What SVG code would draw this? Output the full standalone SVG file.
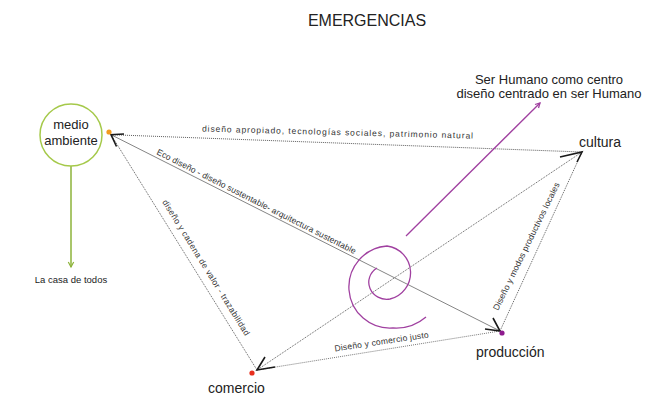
<svg xmlns="http://www.w3.org/2000/svg" width="646" height="400" viewBox="0 0 646 400">
<style>
text{font-family:"Liberation Sans",Arial,sans-serif;fill:#333}
.lbl{font-size:8.5px;fill:#333}
.node{font-size:14px;fill:#222}
.dot{fill:none;stroke:#333;stroke-width:0.8;stroke-dasharray:1 1}
.sol{fill:none;stroke:#666;stroke-width:0.8}
.chev{fill:none;stroke:#1a1a1a;stroke-width:1.6;stroke-linejoin:miter}
.pur{fill:none;stroke:#a040a0;stroke-width:1.3}
</style>
<rect width="646" height="400" fill="#fff"/>
<text x="367" y="26" text-anchor="middle" style="font-size:16px;fill:#222">EMERGENCIAS</text>

<g id="connectors">
<path class="dot" d="M111 134.7 L582 152"/>
<path class="sol" d="M111 134.7 L500 331"/>
<path class="dot" d="M111 134.7 L257 370"/>
<path class="dot" d="M257 370 L500 331" style="stroke:#555"/>
<path class="dot" d="M257 370 L582 152"/>
<path class="dot" d="M500 331 L582 152"/>
<path class="chev" d="M124 134 L111 134.7 L116.5 146.5"/>
<path class="chev" d="M560 157 L582 152 L577 162"/>
<path class="chev" d="M493 318 L500 331 L485 329"/>
<path class="chev" d="M265 357 L257 370 L275 367"/>
<path d="M71 166 L71 267" stroke="#8db33a" stroke-width="1.5" fill="none"/>
<path d="M68.3 262 L71 267 L73.7 262" stroke="#8db33a" stroke-width="1.2" fill="none"/>
<path class="pur" d="M406 236 L540 103"/>
<path class="pur" d="M535 104.5 L540 103 L538.5 108" stroke-width="1"/>
<text class="lbl" transform="translate(202 131.5) rotate(1.5)" textLength="271">diseño apropiado, tecnologías sociales, patrimonio natural</text>
<text class="lbl" transform="translate(156 154) rotate(26.8)" textLength="222">Eco diseño - diseño sustentable- arquitectura sustentable</text>
<text class="lbl" transform="translate(162 202) rotate(58.2)" textLength="158">diseño y cadena de valor - trazabilidad</text>
<text class="lbl" transform="translate(335 351.5) rotate(-8.5)" textLength="95">Diseño y comercio justo</text>
<text class="lbl" transform="translate(498 311) rotate(-64)" textLength="141">Diseño y modos productivos locales</text>
</g>

<g id="medio-ambiente">
<circle cx="71" cy="135" r="31" fill="none" stroke="#a5c94a" stroke-width="1.5"/>
<text x="71" y="129" text-anchor="middle" style="font-size:13px;fill:#222">medio</text>
<text x="71" y="145" text-anchor="middle" style="font-size:13px;fill:#222">ambiente</text>
<circle cx="109" cy="132" r="2.6" fill="#f39a1e"/>
</g>

<g id="la-casa">
<text x="71" y="283" text-anchor="middle" style="font-size:9.5px;fill:#222">La casa de todos</text>
</g>

<g id="cultura">
<text class="node" x="579" y="147">cultura</text>
</g>

<g id="produccion">
<circle cx="502" cy="333" r="2.6" fill="#8e1b8e"/>
<text class="node" x="476" y="357">producción</text>
</g>

<g id="comercio">
<circle cx="252" cy="373" r="2.6" fill="#e8301e"/>
<text class="node" x="208" y="393">comercio</text>
</g>

<g id="ser-humano">
<text x="549" y="84" text-anchor="middle" style="font-size:13px;fill:#222">Ser Humano como centro</text>
<text x="549" y="98" text-anchor="middle" style="font-size:13px;fill:#222">diseño centrado en ser Humano</text>
<path class="pur" d="M377 268 A18 17 0 0 0 390 299 A27 27 0 0 0 387 246 A41 41 0 0 0 393 328 A46 46 0 0 0 426 317"/>
</g>
</svg>
